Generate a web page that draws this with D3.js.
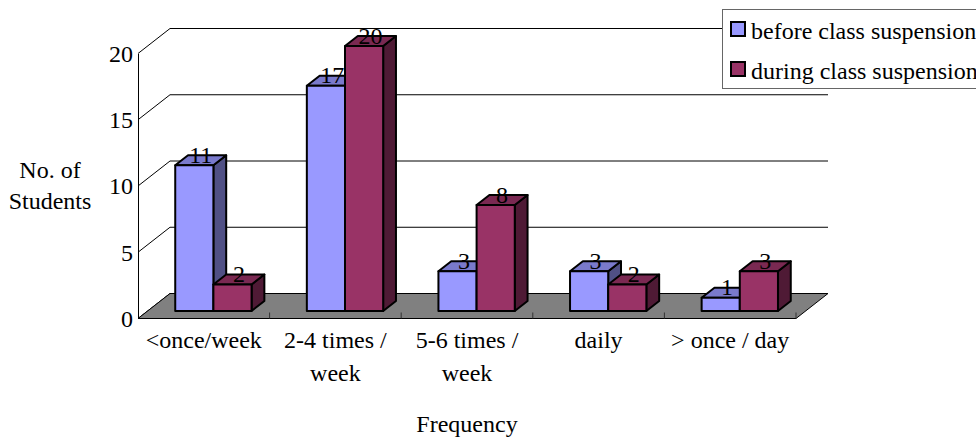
<!DOCTYPE html>
<html>
<head>
<meta charset="utf-8">
<script src="https://cdn.jsdelivr.net/npm/d3@7"></script>
<style>
  html, body { margin: 0; padding: 0; background: #fff; }
  svg { display: block; }
  svg text { font-family: 'Liberation Serif', 'Tinos', 'Times New Roman', 'DejaVu Serif', serif !important; fill: #000; }
</style>
</head>
<body>
<svg id="chart" width="976" height="439"></svg>
<script>
// Survey data: how often students did it, before vs during class suspension
const categories = [["<once/week"], ["2-4 times /", "week"], ["5-6 times /", "week"], ["daily"], ["> once / day"]];
const seriesNames = ["before class suspension", "during class suspension"];
const beforeValues = [11, 17, 3, 3, 1];
const duringValues = [2, 20, 8, 2, 3];
const yTicks = [0, 5, 10, 15, 20];

const SERIF = "'Liberation Serif', 'Tinos', 'Times New Roman', 'DejaVu Serif', serif";

const series = [
  { name: seriesNames[0], values: beforeValues, front: "#9999ff", top: "#7a7acc", side: "#505085" },
  { name: seriesNames[1], values: duringValues, front: "#993366", top: "#7a2952", side: "#4f1a35" }
];

const svg = d3.select("#chart").attr("font-family", SERIF);

// Front plane of the 3D box and the depth offset to the back wall
const left = 138, right = 796, base = 318.5, topY = 53.5;
const DX = 32, DY = -25;
const dFront = 0.3, dBack = 0.7;   // bar depth within the floor

const x0 = d3.scaleBand().domain(d3.range(categories.length)).range([left, right])
  .paddingInner(0.42).paddingOuter(0.21);
const x1 = d3.scaleBand().domain(d3.range(series.length)).range([0, x0.bandwidth()]);
const y = d3.scaleLinear().domain([0, 20]).range([base, topY]);

const pts = arr => arr.map(p => p.join(",")).join(" ");

// Back wall gridlines
svg.append("g").selectAll("line").data(yTicks).join("line")
  .attr("x1", left + DX).attr("x2", right + DX)
  .attr("y1", d => y(d) + DY).attr("y2", d => y(d) + DY)
  .attr("stroke", "#000").attr("stroke-width", 1);

// Side wall gridlines (diagonals)
svg.append("g").selectAll("line").data(yTicks).join("line")
  .attr("x1", left).attr("x2", left + DX)
  .attr("y1", d => y(d)).attr("y2", d => y(d) + DY)
  .attr("stroke", "#000").attr("stroke-width", 1);

// Floor
svg.append("polygon")
  .attr("points", pts([[left, base], [right, base], [right + DX, base + DY], [left + DX, base + DY]]))
  .attr("fill", "#808080").attr("stroke", "#000").attr("stroke-width", 1);

// Category ticks on the floor edge
const bounds = d3.range(categories.length + 1).map(i => left + i * x0.step());
svg.append("g").selectAll("line").data(bounds.slice(1)).join("line")
  .attr("x1", d => d).attr("x2", d => d)
  .attr("y1", base).attr("y2", base - 6)
  .attr("stroke", "#333").attr("stroke-width", 1);

// Value axis
const yAxis = svg.append("g").attr("transform", `translate(${left},0)`)
  .call(d3.axisLeft(y).tickValues(yTicks).tickSize(0).tickSizeOuter(0).tickPadding(5).tickFormat(d3.format("d")))
  .attr("font-family", SERIF).attr("font-size", 24);
yAxis.select(".domain").attr("stroke", "#000").attr("stroke-width", 1);
yAxis.selectAll(".tick text").attr("fill", "#000").attr("dy", "0.33em");

// 3D bars
const bars = svg.append("g");
const labels = [];
categories.forEach((c, i) => {
  series.forEach((s, j) => {
    const v = s.values[i];
    const xa = x0(i) + x1(j) + dFront * DX;
    const xb = xa + x1.bandwidth();
    const yb = y(0) + dFront * DY;
    const yt = y(v) + dFront * DY;
    const ddx = (dBack - dFront) * DX, ddy = (dBack - dFront) * DY;
    const g = bars.append("g").attr("stroke", "#000").attr("stroke-width", 2).attr("stroke-linejoin", "round");
    g.append("polygon").attr("fill", s.side)
      .attr("points", pts([[xb, yb], [xb + ddx, yb + ddy], [xb + ddx, yt + ddy], [xb, yt]]));
    g.append("polygon").attr("fill", s.top)
      .attr("points", pts([[xa, yt], [xb, yt], [xb + ddx, yt + ddy], [xa + ddx, yt + ddy]]));
    g.append("rect").attr("fill", s.front)
      .attr("x", xa).attr("y", yt).attr("width", xb - xa).attr("height", yb - yt);
    labels.push({ x: (xa + xb) / 2 + ddx / 2, y: yt - 2.5, v });
  });
});

// Data labels
svg.append("g").selectAll("text").data(labels).join("text")
  .attr("x", d => d.x).attr("y", d => d.y)
  .attr("text-anchor", "middle").attr("font-size", 24)
  .text(d => d.v);

// Category labels
const cat = svg.append("g").selectAll("text").data(categories).join("text")
  .attr("text-anchor", "middle").attr("font-size", 24)
  .attr("x", (d, i) => x0(i) + x0.bandwidth() / 2)
  .attr("y", 348);
cat.selectAll("tspan").data(d => d).join("tspan")
  .attr("x", function () { return d3.select(this.parentNode).attr("x"); })
  .attr("dy", (d, k) => k === 0 ? 0 : 33)
  .text(d => d);

// Axis titles
svg.append("text").attr("x", 50).attr("y", 178).attr("text-anchor", "middle").attr("font-size", 24).text("No. of");
svg.append("text").attr("x", 50).attr("y", 209).attr("text-anchor", "middle").attr("font-size", 24).text("Students");
svg.append("text").attr("x", (left + right) / 2).attr("y", 432).attr("text-anchor", "middle").attr("font-size", 24).text("Frequency");

// Legend
const legend = svg.append("g");
legend.append("rect").attr("x", 722.5).attr("y", 9.5).attr("width", 270).attr("height", 79)
  .attr("fill", "#fff").attr("stroke", "#666").attr("stroke-width", 1);
const li = legend.selectAll("g.item").data(series).join("g").attr("class", "item")
  .attr("transform", (d, k) => `translate(0,${k * 40})`);
li.append("rect").attr("x", 731).attr("y", 22).attr("width", 14).attr("height", 14)
  .attr("fill", d => d.front).attr("stroke", "#000").attr("stroke-width", 2);
li.append("text").attr("x", 751).attr("y", 39).attr("font-size", 24).text(d => d.name);
</script>
</body>
</html>
